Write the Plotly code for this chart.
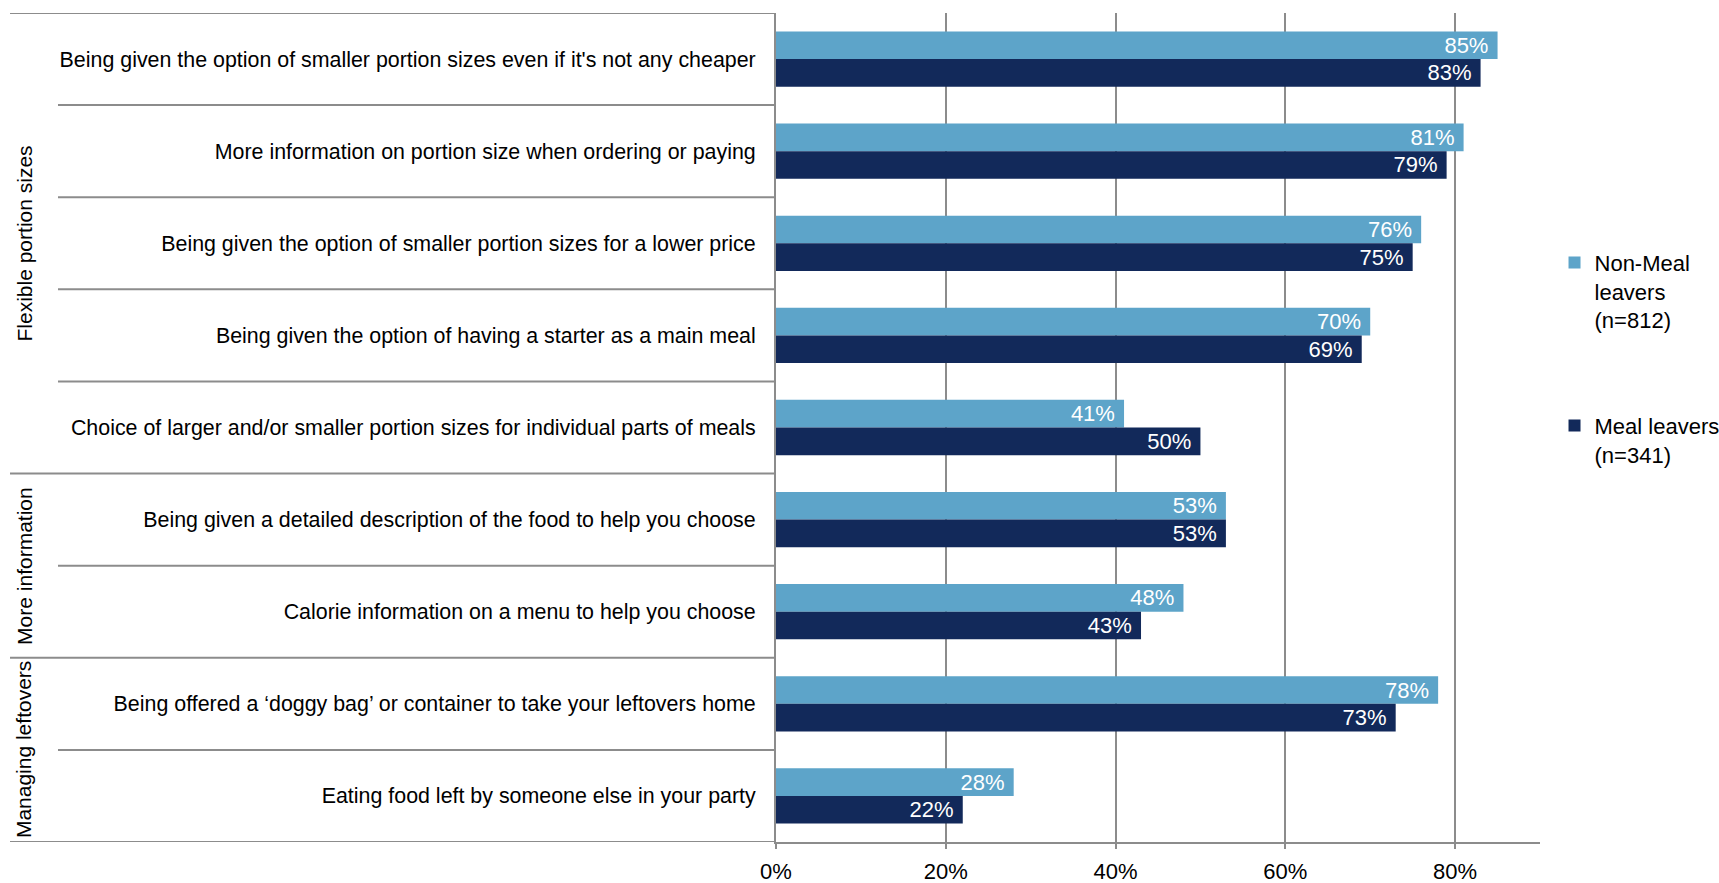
import plotly.graph_objects as go

# Survey statements, top to bottom
categories = [
    "Being given the option of smaller portion sizes even if it's not any cheaper",
    "More information on portion size when ordering or paying",
    "Being given the option of smaller portion sizes for a lower price",
    "Being given the option of having a starter as a main meal",
    "Choice of larger and/or smaller portion sizes for individual parts of meals",
    "Being given a detailed description of the food to help you choose",
    "Calorie information on a menu to help you choose",
    "Being offered a \u2018doggy bag\u2019 or container to take your leftovers home",
    "Eating food left by someone else in your party",
]

# Share agreeing, by respondent type
non_meal_leavers = [0.85, 0.81, 0.76, 0.70, 0.41, 0.53, 0.48, 0.78, 0.28]
meal_leavers = [0.83, 0.79, 0.75, 0.69, 0.50, 0.53, 0.43, 0.73, 0.22]

series_names = ["Non-Meal<br>leavers<br>(n=812)", "Meal leavers<br>(n=341)"]

# Theme groups: (label, first row index, last row index)
groups = [
    ("Flexible portion sizes", 0, 4),
    ("More information", 5, 6),
    ("Managing leftovers", 7, 8),
]

x_ticks = [0, 0.2, 0.4, 0.6, 0.8]

FONT = "Liberation Sans, Arial, sans-serif"
LIGHT = "#5DA4C9"
DARK = "#12295A"
GRID = "#8C8C8C"

fig = go.Figure()
for name, vals, col, grp in [
    (series_names[0], non_meal_leavers, LIGHT, "a"),
    (series_names[1], meal_leavers, DARK, "b"),
]:
    fig.add_trace(go.Bar(
        y=categories, x=vals, orientation="h", name=name,
        marker=dict(color=col, line=dict(width=0)),
        text=vals, texttemplate="%{x:.0%}\u00a0",
        textposition="inside", insidetextanchor="end",
        textfont=dict(color="white", size=22, family=FONT),
        legendgroup=grp,
    ))

# Horizontal separators: long ones at group edges, shorter ones between rows
group_edges = {-0.5} | {g[2] + 0.5 for g in groups}
n = len(categories)
for k in range(n + 1):
    yb = k - 0.5
    x0 = -1.0026 if yb in group_edges else -0.9398
    fig.add_shape(type="line", xref="paper", yref="y", x0=x0, x1=0,
                  y0=yb, y1=yb, line=dict(color=GRID, width=2), layer="below")

# Rotated theme labels
for label, a, b in groups:
    fig.add_annotation(
        text=label, xref="paper", yref="y", x=-0.984, y=(a + b) / 2,
        textangle=-90, showarrow=False, xanchor="center", yanchor="middle",
        font=dict(size=21, family=FONT, color="black"),
    )

fig.update_layout(
    width=1719, height=883,
    margin=dict(l=776, r=179, t=13, b=41, autoexpand=False),
    paper_bgcolor="white", plot_bgcolor="white",
    barmode="group", bargap=0.40, bargroupgap=0,
    uniformtext=dict(minsize=22, mode="show"),
    font=dict(family=FONT, size=22, color="black"),
    legend=dict(
        x=1.019, xanchor="left", y=0.724, yanchor="top",
        valign="top", traceorder="grouped", tracegroupgap=74,
        font=dict(size=22, family=FONT, color="black"),
        bgcolor="rgba(0,0,0,0)",
    ),
    showlegend=True,
)

fig.update_xaxes(
    range=[0, 0.9], tickvals=x_ticks, tickformat=".0%",
    showgrid=True, gridcolor=GRID, gridwidth=2,
    showline=True, linecolor=GRID, linewidth=2,
    zeroline=False, ticks="outside", ticklen=5, tickwidth=2, tickcolor=GRID,
    ticklabelstandoff=4,
    tickfont=dict(size=22, family=FONT, color="black"),
    automargin=False,
)
fig.update_yaxes(
    range=[n - 0.5, -0.5], showgrid=False,
    showline=True, linecolor=GRID, linewidth=2,
    ticks="", ticklabelstandoff=14,
    tickfont=dict(size=21.4, family=FONT, color="black"),
    automargin=False,
)

fig.write_html("out.html")
